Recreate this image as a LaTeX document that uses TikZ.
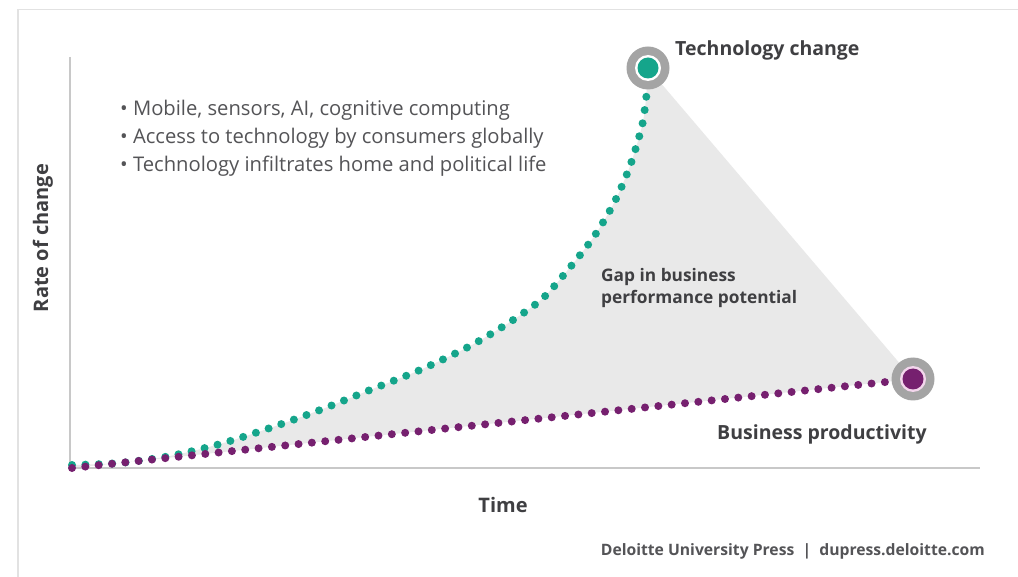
\documentclass[tikz,border=0pt]{standalone}
\usepackage{fontspec}
\setmainfont{Open Sans}
\begin{document}
\begin{tikzpicture}[x=1pt,y=-1pt,
  axisline/.style={draw=axisgray,line width=2pt},
  dotline/.style={line width=8pt,line cap=round,dash pattern=on 0pt off 13.4pt},
  lbl/.style={text=labelgray,font=\fontsize{19.5}{22}\selectfont\bfseries,inner sep=0pt},
  gaplbl/.style={text=labelgray,font=\fontsize{17.3}{22}\selectfont\bfseries,inner sep=0pt,anchor=base west},
  bullet/.style={text=bulletgray,font=\fontsize{20.2}{23}\selectfont,inner sep=0pt,anchor=base west},
  ring/.style={circle,fill=ringgray,minimum size=43pt,inner sep=0pt}
]
\definecolor{axisgray}{HTML}{C8C8C8}
\definecolor{framegray}{HTML}{E2E2E2}
\definecolor{ringgray}{HTML}{A4A4A4}
\definecolor{gapgray}{HTML}{E9E9E9}
\definecolor{teal}{HTML}{15A58B}
\definecolor{plum}{HTML}{76206F}
\definecolor{pinkring}{HTML}{F3D6EC}
\definecolor{labelgray}{HTML}{3F3F42}
\definecolor{bulletgray}{HTML}{545457}
\useasboundingbox (0,0) rectangle (1018,577);
\fill[white] (0,0) rectangle (1018,577);
% frame
\draw[framegray,line width=1.5pt] (18,577) -- (18,9.5) -- (1018,9.5);
% key points
\coordinate (tp) at (648,68);
\coordinate (bp) at (913,379);
% gap area
\fill[gapgray] plot[smooth] coordinates {(72,465) (120,463) (170,456) (220,444) (270,428) (320,410) (370,390) (420,370) (470,346) (510,322) (542,299) (567,271) (593,238) (614,203) (630,166) (642,126) (646,99) (648,68)} -- (bp) -- (72,468) -- cycle;
% axes
\coordinate (ytop) at (70,57);
\coordinate (xend) at (980,468);
\coordinate (orig) at (70,468);
\draw[axisline] (ytop) -- (orig) -- (xend);
% curves
\draw[dotline,teal] plot[smooth] coordinates {(72,465) (120,463) (170,456) (220,444) (270,428) (320,410) (370,390) (420,370) (470,346) (510,322) (542,299) (567,271) (593,238) (614,203) (630,166) (642,126) (646,99) (648,84)};
\draw[dotline,plum] (72,468) -- (900,380.5);
% markers
\node[ring] (tm) at (tp) {};
\node[circle,fill=white,minimum size=26pt,inner sep=0pt] at (tp) {};
\node[circle,fill=teal,minimum size=21pt,inner sep=0pt] at (tp) {};
\node[ring] (bm) at (bp) {};
\node[circle,fill=pinkring,minimum size=26pt,inner sep=0pt] at (bp) {};
\node[circle,fill=plum,minimum size=21pt,inner sep=0pt] at (bp) {};
% labels
\node[lbl,anchor=base west] (tl) at (675,56) {Technology change};
\node[lbl,anchor=base west] (bl) at (717,439) {Business productivity};
\node[gaplbl] (g1) at (601,282) {Gap in business};
\node[gaplbl] (g2) at (601,304) {performance potential};
\node[bullet] (b1) at (120,116) {\textbullet\ Mobile, sensors, AI, cognitive computing};
\node[bullet] (b2) at (120,144) {\textbullet\ Access to technology by consumers globally};
\node[bullet] (b3) at (120,172) {\textbullet\ Technology infiltrates home and political life};
\node[lbl,rotate=90,font=\fontsize{20}{22}\selectfont\bfseries] (ya) at (43,238) {Rate of change};
\node[lbl,anchor=base,font=\fontsize{20}{22}\selectfont\bfseries] (xa) at (503,512) {Time};
\node[lbl,anchor=base east,font=\fontsize{15.7}{18}\selectfont\bfseries,text=bulletgray] (ft) at (985,555) {Deloitte University Press \ |\ \ dupress.deloitte.com};
\end{tikzpicture}
\end{document}
